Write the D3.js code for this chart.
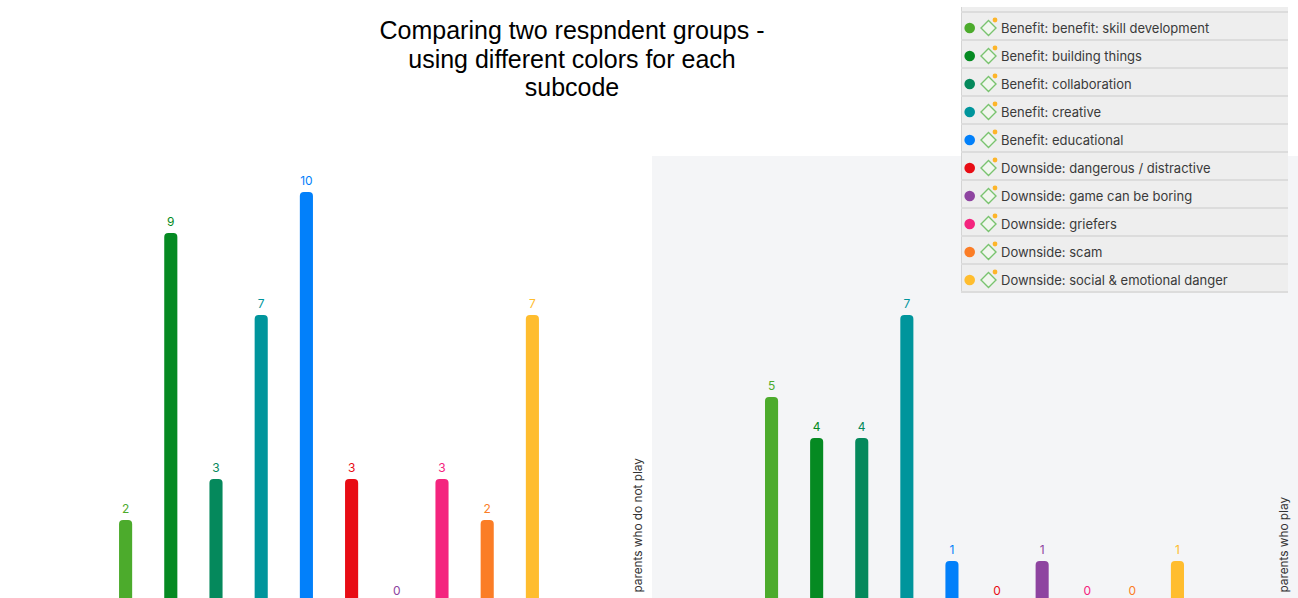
<!DOCTYPE html>
<html><head><meta charset="utf-8">
<script src="https://cdn.jsdelivr.net/npm/d3@7"></script>
<style>html,body{margin:0;padding:0;background:#fff;overflow:hidden}svg{display:block}</style>
</head><body><svg id="c" width="1298" height="598"></svg>
<script>
const categories=["Benefit: benefit: skill development","Benefit: building things","Benefit: collaboration","Benefit: creative","Benefit: educational","Downside: dangerous / distractive","Downside: game can be boring","Downside: griefers","Downside: scam","Downside: social & emotional danger"];
const colors=["#4cab2c","#058a22","#05895c","#00959c","#0280fa","#e80c14","#8e44a0","#f4247e","#fb7d26","#ffbd2e"];
const nonPlayers=[2,9,3,7,10,3,0,3,2,7];
const players=[5,4,4,7,1,0,1,0,0,1];
const titleLines=["Comparing two respndent groups -","using different colors for each","subcode"];
const sans='"Liberation Sans",Arial,sans-serif', ui='Inter,Roboto,sans-serif';
const svg=d3.select("#c");
const y=d3.scaleLinear().domain([0,10]).range([602,192]);
const idx=categories.map((_,i)=>i);
const xL=d3.scaleBand().domain(idx).range([103,555]).paddingInner(0.71).paddingOuter(.355);
const xR=d3.scaleBand().domain(idx).range([749,1200]).paddingInner(0.71).paddingOuter(.355);
svg.append("rect").attr("x",652).attr("y",156).attr("width",646).attr("height",442).attr("fill","#f4f5f7");
function panel(vals,x,label,lx){
  const g=svg.append("g");
  g.selectAll("rect").data(vals.map((v,i)=>({v,i})).filter(d=>d.v>0)).join("rect")
    .attr("x",d=>x(d.i)).attr("width",x.bandwidth()).attr("y",d=>y(d.v)).attr("height",d=>y(0)-y(d.v)+6)
    .attr("rx",4).attr("fill",d=>colors[d.i]);
  g.selectAll("text").data(vals.map((v,i)=>({v,i}))).join("text")
    .attr("x",d=>x(d.i)+x.bandwidth()/2).attr("y",d=>y(d.v)-7.5)
    .attr("text-anchor","middle").attr("font-family",ui).attr("font-size",12).attr("fill",d=>colors[d.i]).text(d=>d.v);
  svg.append("text").attr("transform",`translate(${lx},592.5) rotate(-90)`).attr("font-family",ui).attr("font-size",11.8).attr("fill","#333").text(label);
}
panel(nonPlayers,xL,"parents who do not play",641.5);
panel(players,xR,"parents who play",1287.5);
svg.append("g").selectAll("text").data(titleLines).join("text")
  .attr("x",572).attr("y",(d,i)=>39+i*28.5).attr("text-anchor","middle").attr("font-family",sans).attr("font-size",25).attr("fill","#000").text(d=>d);
// legend
const lg=svg.append("g");
lg.append("rect").attr("x",961).attr("y",7).attr("width",327).attr("height",285).attr("fill","#eeeeee");
lg.append("rect").attr("x",961).attr("y",7).attr("width",1).attr("height",285).attr("fill","#d4d4d4");
const rowY=d3.scaleLinear().domain([0,1]).range([28,56]);
lg.append("rect").attr("x",961).attr("y",11).attr("width",327).attr("height",2).attr("fill","#dcdcdc");
const row=lg.selectAll("g.r").data(categories).join("g").attr("class","r").attr("transform",(d,i)=>`translate(0,${rowY(i)})`);
row.append("rect").attr("x",961).attr("y",11).attr("width",327).attr("height",2).attr("fill","#dcdcdc");
row.append("circle").attr("cx",969.7).attr("cy",0).attr("r",5.3).attr("fill",(d,i)=>colors[i]);
row.append("path").attr("d",d3.line()([[988.5,-7.5],[996,0],[988.5,7.5],[981,0]])+"Z").attr("fill","#f1f6ee").attr("stroke","#79c36f").attr("stroke-width",1.4);
row.append("circle").attr("cx",995).attr("cy",-8).attr("r",2.4).attr("fill","#fdb52a");
row.append("text").attr("x",1001).attr("y",4.5).attr("font-family",ui).attr("font-size",13).attr("fill","#3a3a3a").text(d=>d);
</script></body></html>
